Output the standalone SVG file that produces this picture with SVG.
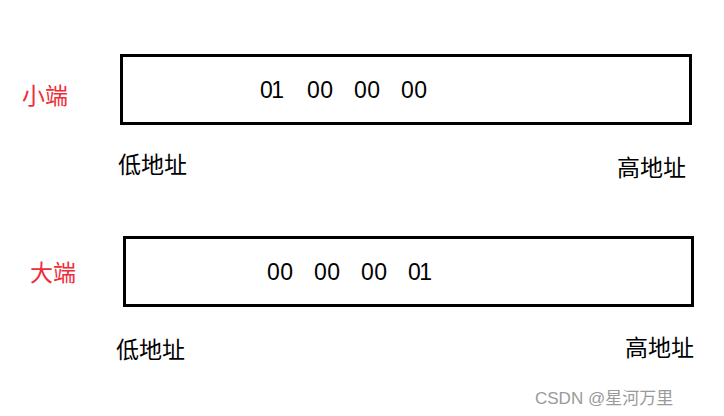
<svg xmlns="http://www.w3.org/2000/svg" width="724" height="416" viewBox="0 0 724 416">
<style>
.box{fill:none;stroke:#000;stroke-width:3}
.t{font-family:"Noto Sans CJK SC",sans-serif;font-size:23px;fill:#000}
.n{font-family:"Liberation Sans",sans-serif;font-size:23px;fill:#000}
.r{font-family:"Noto Sans CJK SC",sans-serif;font-size:23px;fill:#f02c38}
.w{font-family:"Liberation Sans","Noto Sans CJK SC",sans-serif;font-size:17px;fill:#9a9a9a}
</style>
<rect width="724" height="416" fill="#fff"/>
<g id="little">
<text class="r" x="22" y="104">小端</text>
<rect class="box" x="121.5" y="55.5" width="569" height="68"/>
<text class="n" x="260" y="98" textLength="24">01</text>
<text class="n" x="307" y="98" textLength="26">00</text>
<text class="n" x="354" y="98" textLength="26">00</text>
<text class="n" x="401" y="98" textLength="26">00</text>
<text class="t" x="118" y="173">低地址</text>
<text class="t" x="617" y="176">高地址</text>
</g>
<g id="big">
<text class="r" x="30" y="281">大端</text>
<rect class="box" x="124.5" y="237.5" width="568" height="68"/>
<text class="n" x="267" y="280" textLength="26">00</text>
<text class="n" x="314" y="280" textLength="26">00</text>
<text class="n" x="361" y="280" textLength="26">00</text>
<text class="n" x="408" y="280" textLength="24">01</text>
<text class="t" x="116" y="358">低地址</text>
<text class="t" x="625" y="356">高地址</text>
</g>
<g id="connectors"/>
<text class="w" x="535" y="404">CSDN @星河万里</text>
</svg>
